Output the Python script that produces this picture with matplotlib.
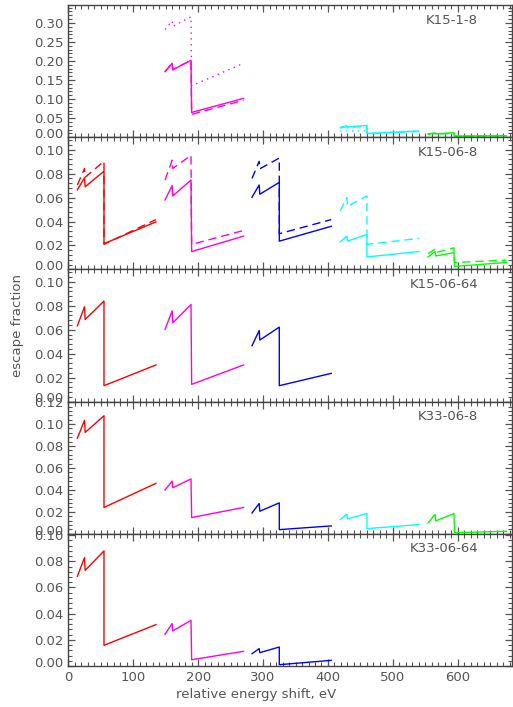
import numpy as np
import matplotlib
matplotlib.use("Agg")
import matplotlib.pyplot as plt
import matplotlib.transforms as mtransforms
from matplotlib.ticker import MultipleLocator

# energy knots of each edge group (start, small edge, dip, big edge, drop, end), eV
x_red = [14, 25, 26, 55, 55, 135]
x_mag = [149, 160, 161, 189, 190, 270]
x_blu = [283, 294, 295, 325, 325, 405]
x_cya = [419, 429, 430, 460, 460, 540]
x_grn = [554, 565, 566, 594, 595, 675]

# panel 1: K15-1-8
p1_mag_solid = [0.172, 0.194, 0.177, 0.202, 0.065, 0.102]
p1_mag_dash = [0.172, 0.194, 0.177, 0.202, 0.060, 0.097]
p1_mag_dot = [0.283, 0.305, 0.291, 0.316, 0.135, 0.194]
p1_cya_solid = [0.026, 0.030, 0.027, 0.031, 0.010, 0.016]
p1_cya_dash = [0.024, 0.028, 0.025, 0.029, 0.009, 0.015]
p1_cya_dot = [0.016, 0.017, 0.016, 0.017, 0.010, 0.018]
p1_grn_solid = [0.009, 0.011, 0.009, 0.0115, 0.003, 0.004]
p1_grn_dash = [0.008, 0.010, 0.008, 0.0105, 0.002, 0.004]
p1_grn_dot = [0.008, 0.010, 0.009, 0.010, 0.003, 0.005]

# panel 2: K15-06-8
p2_red_solid = [0.0664, 0.0765, 0.069, 0.082, 0.0215, 0.0397]
p2_red_dash = [0.0705, 0.0843, 0.077, 0.0903, 0.021, 0.0416]
p2_mag_solid = [0.058, 0.070, 0.0614, 0.0746, 0.0149, 0.0278]
p2_mag_dash = [0.0746, 0.0912, 0.0843, 0.0953, 0.0209, 0.0325]
p2_blu_solid = [0.0603, 0.0705, 0.0628, 0.0727, 0.0236, 0.036]
p2_blu_dash = [0.076, 0.0903, 0.084, 0.093, 0.0298, 0.0416]
p2_cya_solid = [0.0231, 0.0278, 0.0236, 0.0292, 0.0104, 0.0149]
p2_cya_dash = [0.049, 0.060, 0.0526, 0.0614, 0.0209, 0.0259]
p2_grn_solid = [0.0104, 0.0149, 0.0112, 0.014, 0.0025, 0.0058]
p2_grn_dash = [0.0132, 0.0168, 0.014, 0.018, 0.0058, 0.0077]

# panel 3: K15-06-64
p3_red = [0.0633, 0.0792, 0.0686, 0.0839, 0.0133, 0.0306]
p3_mag = [0.0603, 0.0758, 0.0658, 0.0811, 0.0144, 0.0306]
p3_blu = [0.0467, 0.0594, 0.0514, 0.0622, 0.0133, 0.0236]

# panel 4: K33-06-8
p4_red = [0.0872, 0.1034, 0.0924, 0.1076, 0.024, 0.046]
p4_mag = [0.040, 0.048, 0.042, 0.050, 0.0148, 0.024]
p4_blu = [0.019, 0.0276, 0.0206, 0.0282, 0.0038, 0.0072]
p4_cya = [0.013, 0.0179, 0.0136, 0.0185, 0.0047, 0.0084]
p4_grn = [0.0099, 0.0176, 0.0118, 0.0185, 0.001, 0.0023]

# panel 5: K33-06-64
p5_red = [0.0685, 0.0828, 0.0731, 0.0879, 0.0158, 0.0316]
p5_mag = [0.0242, 0.0324, 0.0268, 0.0349, 0.0048, 0.0112]
p5_blu = [0.0094, 0.0133, 0.0102, 0.0145, 0.001, 0.0043]

names = ["K15-1-8", "K15-06-8", "K15-06-64", "K33-06-8", "K33-06-64"]
ytops = [0.347, 0.1104, 0.1104, 0.1205, 0.101]
ymajor = [0.05, 0.02, 0.02, 0.02, 0.02]
yminor = [0.01, 0.004, 0.004, 0.004, 0.004]

RED, MAG, BLU, CYA, GRN = "#ff0000", "#ff00e6", "#0000ff", "#00ffff", "#00ff00"
GRAY = "#555555"
SOLID, DASH, DOT = "-", (0, (6, 3.5)), (0, (1, 3.2))

panels = [
    [(x_mag, p1_mag_solid, MAG, SOLID), (x_mag, p1_mag_dash, MAG, DASH), (x_mag, p1_mag_dot, MAG, DOT),
     (x_cya, p1_cya_solid, CYA, SOLID), (x_cya, p1_cya_dash, CYA, DASH), (x_cya, p1_cya_dot, CYA, DOT),
     (x_grn, p1_grn_solid, GRN, SOLID), (x_grn, p1_grn_dash, GRN, DASH), (x_grn, p1_grn_dot, GRN, DOT)],
    [(x_red, p2_red_solid, RED, SOLID), (x_red, p2_red_dash, RED, DASH),
     (x_mag, p2_mag_solid, MAG, SOLID), (x_mag, p2_mag_dash, MAG, DASH),
     (x_blu, p2_blu_solid, BLU, SOLID), (x_blu, p2_blu_dash, BLU, DASH),
     (x_cya, p2_cya_solid, CYA, SOLID), (x_cya, p2_cya_dash, CYA, DASH),
     (x_grn, p2_grn_solid, GRN, SOLID), (x_grn, p2_grn_dash, GRN, DASH)],
    [(x_red, p3_red, RED, SOLID), (x_mag, p3_mag, MAG, SOLID), (x_blu, p3_blu, BLU, SOLID)],
    [(x_red, p4_red, RED, SOLID), (x_mag, p4_mag, MAG, SOLID), (x_blu, p4_blu, BLU, SOLID),
     (x_cya, p4_cya, CYA, SOLID), (x_grn, p4_grn, GRN, SOLID)],
    [(x_red, p5_red, RED, SOLID), (x_mag, p5_mag, MAG, SOLID), (x_blu, p5_blu, BLU, SOLID)],
]

plt.rcParams["font.family"] = "DejaVu Sans"
fig = plt.figure(figsize=(5.13, 7.07), dpi=100)
left, right, top, bottom = 0.1331, 0.9975, 0.9929, 0.058
h = (top - bottom) / 5

axes = []
for i in range(5):
    ax = fig.add_axes([left, top - (i + 1) * h, right - left, h])
    axes.append(ax)
    for xs, ys, c, ls in panels[i]:
        ax.plot(xs, ys, color=c, linestyle=ls, linewidth=1.0)
    ax.set_xlim(0, 683)
    ax.set_ylim(0, ytops[i])
    ax.xaxis.set_major_locator(MultipleLocator(100))
    ax.xaxis.set_minor_locator(MultipleLocator(10))
    ax.yaxis.set_major_locator(MultipleLocator(ymajor[i]))
    ax.yaxis.set_minor_locator(MultipleLocator(yminor[i]))
    ax.tick_params(which="both", direction="in", top=True, right=True, colors=GRAY,
                   labelcolor=GRAY, labelsize=9.5)
    ax.tick_params(which="major", length=5, width=0.9)
    ax.tick_params(which="minor", length=2.8, width=0.8)
    ax.yaxis.set_major_formatter(plt.FormatStrFormatter("%.2f"))
    for s in ax.spines.values():
        s.set_color("#444444")
        s.set_linewidth(1.0)
    if i < 4:
        ax.tick_params(labelbottom=False)
    ax.text(0.924, 0.886, names[i], transform=ax.transAxes, ha="right", va="center",
            color=GRAY, fontsize=9.5)

fig.text(0.5, 0.017, "relative energy shift, eV", ha="center", va="center", color=GRAY, fontsize=9.5)
fig.text(0.035, 0.54, "escape fraction", ha="center", va="center", rotation=90, color=GRAY, fontsize=9.5)

# lift the 0.00 labels a little, like the original
fig.canvas.draw()
lift = mtransforms.ScaledTranslation(0, 3 / 72, fig.dpi_scale_trans)
for ax in axes:
    for t in ax.yaxis.get_major_ticks():
        if abs(t.get_loc()) < 1e-9:
            t.label1.set_transform(t.label1.get_transform() + lift)

fig.savefig("out.png", dpi=100)
